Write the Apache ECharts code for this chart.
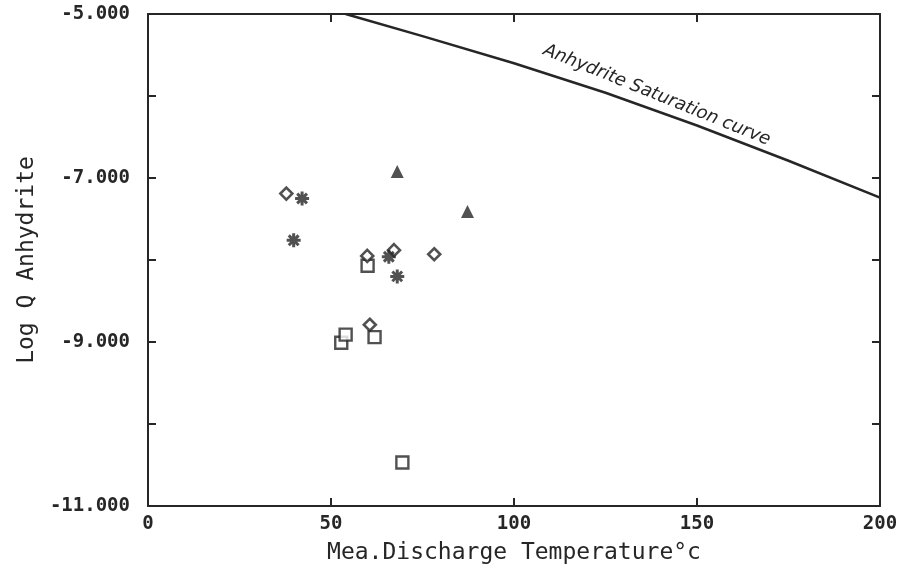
<!DOCTYPE html>
<html>
<head>
<meta charset="utf-8">
<script src="https://cdn.jsdelivr.net/npm/echarts@6/dist/echarts.min.js"></script>
<style>html,body{margin:0;padding:0;background:#fff}#c{width:911px;height:570px}</style>
</head>
<body>
<div id="c"></div>
<script>
// ---- data ----
const diamondX = [37.8, 59.9, 67.2, 78.2, 60.6];
const diamondY = [-7.19, -7.95, -7.88, -7.93, -8.79];
const starX = [42.1, 39.8, 65.8, 68.1];
const starY = [-7.25, -7.76, -7.96, -8.20];
const triX = [68.1, 87.3];
const triY = [-6.92, -7.41];
const squareX = [60.0, 52.8, 54.0, 61.9, 69.5];
const squareY = [-8.07, -9.01, -8.91, -8.94, -10.47];
const curveX = [54, 75, 100, 125, 150, 175, 200];
const curveY = [-5.00, -5.27, -5.60, -5.96, -6.36, -6.79, -7.24];
const curveLabel = 'Anhydrite Saturation curve';
const curveLabelAt = [139, -5.99];
const xName = 'Mea.Discharge Temperature°c';
const yName = 'Log Q Anhydrite';

const zip = (a, b) => a.map((v, i) => [v, b[i]]);
const ink = '#262626';
const mono = '"DejaVu Sans Mono", monospace';

const chart = echarts.init(document.getElementById('c'), null, {renderer: 'canvas'});
const axisCommon = {
  axisLine: {show: true, onZero: false, lineStyle: {color: ink, width: 2}},
  splitLine: {show: false},
  axisTick: {show: true, inside: true, length: 8, lineStyle: {color: ink, width: 2}}
};
chart.setOption({
  backgroundColor: '#fff',
  animation: false,
  grid: {left: 148, right: 31, top: 14, bottom: 64, containLabel: false, outerBoundsMode: 'none'},
  xAxis: [
    Object.assign({}, axisCommon, {
      type: 'value', min: 0, max: 200, interval: 50, position: 'bottom',
      name: xName, nameLocation: 'middle', nameGap: 36,
      nameTextStyle: {fontFamily: mono, fontSize: 23, color: ink},
      axisLabel: {fontFamily: mono, fontSize: 19, fontWeight: 'bold', color: ink, margin: 9}
    }),
    Object.assign({}, axisCommon, {
      type: 'value', min: 0, max: 200, interval: 50, position: 'top',
      axisLabel: {show: false}
    })
  ],
  yAxis: [
    Object.assign({}, axisCommon, {
      type: 'value', min: -11, max: -5, interval: 1, position: 'left',
      name: yName, nameLocation: 'middle', nameGap: 105, nameRotate: 90,
      nameTextStyle: {fontFamily: mono, fontSize: 23, color: ink},
      axisLabel: {fontFamily: mono, fontSize: 19, fontWeight: 'bold', color: ink, margin: 18,
        formatter: v => (Math.round(v) % 2 !== 0 ? v.toFixed(3) : '')}
    }),
    Object.assign({}, axisCommon, {
      type: 'value', min: -11, max: -5, interval: 1, position: 'right',
      axisLabel: {show: false}
    })
  ],
  series: [
    {
      type: 'line', data: zip(curveX, curveY), smooth: false, symbol: 'none',
      lineStyle: {color: ink, width: 2.5}, clip: true,
      markPoint: {
        symbol: 'circle', symbolSize: 0,
        data: [{coord: curveLabelAt, value: curveLabel}],
        label: {show: true, formatter: curveLabel, rotate: -22, fontFamily: '"DejaVu Sans", sans-serif',
          fontStyle: 'italic', fontSize: 18, color: ink, position: 'inside'}
      }
    },
    {
      type: 'scatter', data: zip(squareX, squareY), symbol: 'rect', symbolSize: 12,
      itemStyle: {color: '#fff', borderColor: ink, borderWidth: 2.4}
    },
    {
      type: 'scatter', data: zip(diamondX, diamondY), symbol: 'diamond', symbolSize: 12,
      itemStyle: {color: '#fff', borderColor: ink, borderWidth: 2.6}
    },
    {
      type: 'scatter', data: zip(triX, triY), symbol: 'triangle', symbolSize: 13,
      itemStyle: {color: ink}
    },
    {
      type: 'scatter', data: zip(starX, starY),
      symbol: 'path://M0,5L10,5M5,0L5,10M1.5,1.5L8.5,8.5M8.5,1.5L1.5,8.5', symbolSize: 14,
      itemStyle: {color: 'none', borderColor: ink, borderWidth: 3}
    }
  ]
});
</script>
</body>
</html>
